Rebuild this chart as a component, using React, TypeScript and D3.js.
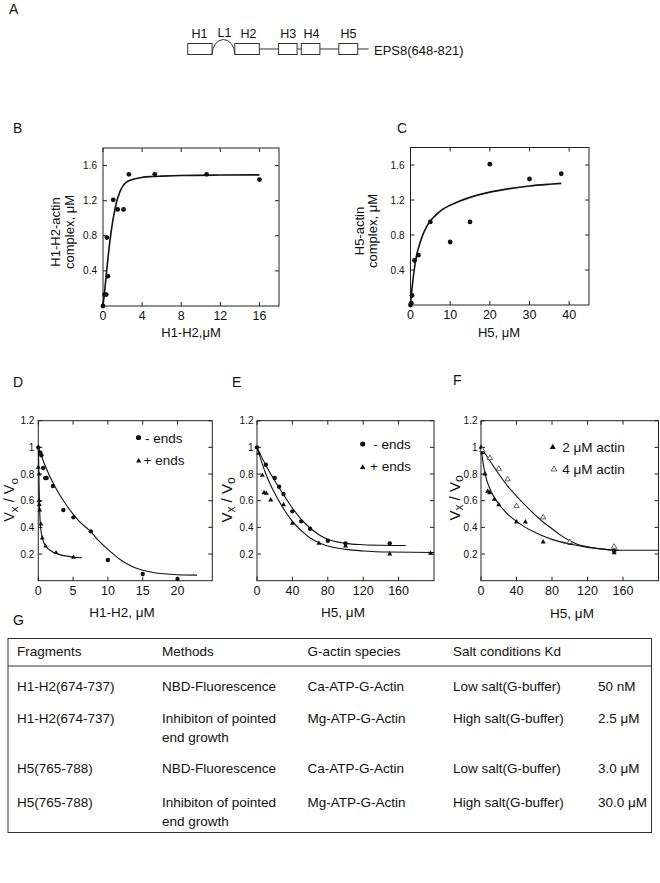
import React from 'react';
import * as d3 from 'd3';

type Pt = [number, number];
const FONT = "'Liberation Sans', Arial, Helvetica, sans-serif";
const INK = '#111';

// ---------- Panel A (domain schematic) ----------
const domainNames = ['H1', 'L1', 'H2', 'H3', 'H4', 'H5'];
const constructName = 'EPS8(648-821)';

// ---------- Panel B ----------
const bXTicks = [0, 4, 8, 12, 16];
const bYTicks = [0.4, 0.8, 1.2, 1.6];
const bPoints: Pt[] = [[0, 0], [0.15, 0.13], [0.33, 0.13], [0.4, 0.78], [0.5, 0.34], [1.05, 1.21], [1.5, 1.1], [2.1, 1.1], [2.65, 1.5], [5.3, 1.5], [10.6, 1.5], [16, 1.44]];
const bFit: Pt[] = [[0, 0], [0.2, 0.2], [0.4, 0.43], [0.6, 0.64], [0.8, 0.82], [1, 0.97], [1.2, 1.09], [1.4, 1.19], [1.6, 1.26], [1.8, 1.32], [2, 1.36], [2.4, 1.41], [3, 1.44], [4, 1.465], [5, 1.475], [6, 1.48], [8, 1.487], [12, 1.492], [16, 1.494]];

// ---------- Panel C ----------
const cXTicks = [0, 10, 20, 30, 40];
const cYTicks = [0.4, 0.8, 1.2, 1.6];
const cPoints: Pt[] = [[0, 0], [0.2, 0.02], [0.4, 0.11], [1, 0.51], [2, 0.57], [5, 0.95], [10, 0.72], [15, 0.95], [20, 1.61], [30, 1.44], [38, 1.5]];
const cFit: Pt[] = [[0, 0], [0.5, 0.24], [1, 0.42], [1.5, 0.56], [2, 0.65], [3, 0.79], [4, 0.89], [5, 0.96], [6, 1.01], [8, 1.09], [10, 1.14], [12, 1.18], [15, 1.23], [20, 1.29], [25, 1.33], [30, 1.36], [35, 1.38], [38, 1.39]];

// ---------- Panels D, E, F ----------
const vYTicks = [0.2, 0.4, 0.6, 0.8, 1, 1.2];
const dXTicks = [0, 5, 10, 15, 20];
const dMinusPoints: Pt[] = [[0, 1.0], [0.3, 0.96], [0.45, 0.94], [0.7, 0.845], [1.0, 0.77], [1.2, 0.77], [2.1, 0.71], [3.6, 0.53], [5.05, 0.475], [7.55, 0.37], [10, 0.155], [15, 0.05], [20, 0.013]];
const dPlusPoints: Pt[] = [[0, 0.85], [0.1, 0.8], [0.12, 0.6], [0.15, 0.57], [0.2, 0.53], [0.38, 0.425], [0.57, 0.32], [1.05, 0.26], [2.55, 0.21], [5.05, 0.175]];
const dMinusFit: Pt[] = [[0, 1.0], [0.2, 0.975], [0.5, 0.93], [1, 0.86], [1.5, 0.8], [2, 0.745], [3, 0.65], [4, 0.57], [5, 0.5], [6, 0.44], [7.5, 0.37], [8.5, 0.31], [10, 0.235], [11, 0.19], [12, 0.15], [13, 0.12], [14, 0.095], [15, 0.078], [16.5, 0.062], [18, 0.052], [20, 0.045], [22.8, 0.042]];
const dPlusFit: Pt[] = [[0, 1.0], [0.05, 0.9], [0.1, 0.75], [0.15, 0.62], [0.2, 0.52], [0.3, 0.42], [0.4, 0.37], [0.6, 0.315], [0.9, 0.275], [1.3, 0.245], [1.8, 0.225], [2.5, 0.205], [3.5, 0.19], [5, 0.178], [6.3, 0.172]];

const eXTicks = [0, 40, 80, 120, 160];
const eMinusPoints: Pt[] = [[0, 1.0], [10, 0.87], [20, 0.77], [25, 0.705], [30, 0.65], [40, 0.52], [50, 0.445], [60, 0.39], [80, 0.3], [100, 0.28], [150, 0.28]];
const ePlusPoints: Pt[] = [[2, 0.955], [6, 0.79], [8, 0.66], [10.5, 0.655], [15.5, 0.605], [30, 0.57], [40, 0.43], [70, 0.28], [100, 0.26], [150, 0.2], [196, 0.205]];
const eMinusFit: Pt[] = [[0, 1.0], [10, 0.865], [20, 0.75], [30, 0.645], [40, 0.545], [50, 0.46], [60, 0.395], [70, 0.345], [80, 0.31], [100, 0.28], [120, 0.27], [140, 0.266], [168, 0.264]];
const ePlusFit: Pt[] = [[0, 1.0], [10, 0.8], [20, 0.655], [30, 0.54], [40, 0.445], [50, 0.375], [60, 0.32], [70, 0.285], [80, 0.26], [100, 0.235], [120, 0.223], [150, 0.215], [200, 0.212]];

const fXTicks = [0, 40, 80, 120, 160];
const f2Points: Pt[] = [[0, 1.0], [1.5, 0.96], [4.5, 0.8], [7.5, 0.67], [9.75, 0.66], [15, 0.61], [20, 0.57], [40, 0.44], [50, 0.44], [70, 0.29], [100, 0.28], [150, 0.21], [150, 0.225]];
const f4Points: Pt[] = [[1.5, 0.98], [10, 0.92], [20, 0.84], [30, 0.76], [40, 0.56], [70, 0.475], [100, 0.29], [150, 0.255]];
const f2Fit: Pt[] = [[0, 1.0], [2, 0.9], [5, 0.79], [10, 0.69], [15, 0.625], [20, 0.575], [30, 0.5], [40, 0.445], [50, 0.4], [60, 0.365], [70, 0.335], [80, 0.31], [100, 0.275], [120, 0.25], [140, 0.235], [160, 0.228], [200, 0.228]];
const f4Fit: Pt[] = [[0, 1.0], [10, 0.9], [20, 0.8], [30, 0.71], [40, 0.635], [50, 0.565], [60, 0.5], [70, 0.44], [80, 0.39], [90, 0.34], [100, 0.3], [110, 0.27], [120, 0.255], [140, 0.235], [155, 0.228]];

// ---------- Panel G (table) ----------
const tableHeaders = ['Fragments', 'Methods', 'G-actin species', 'Salt conditions Kd'];
const rowFragments = ['H1-H2(674-737)', 'H1-H2(674-737)', 'H5(765-788)', 'H5(765-788)'];
const rowMethods = [['NBD-Fluorescence'], ['Inhibiton of pointed', 'end growth'], ['NBD-Fluorescence'], ['Inhibiton of pointed', 'end growth']];
const rowSpecies = ['Ca-ATP-G-Actin', 'Mg-ATP-G-Actin', 'Ca-ATP-G-Actin', 'Mg-ATP-G-Actin'];
const rowSalt = ['Low salt(G-buffer)', 'High salt(G-buffer)', 'Low salt(G-buffer)', 'High salt(G-buffer)'];
const rowKd = ['50 nM', '2.5 μM', '3.0 μM', '30.0 μM'];

type Lin = d3.ScaleLinear<number, number>;

function Axes({ x, y, xTicks, yTicks, yGap }: { x: Lin; y: Lin; xTicks: number[]; yTicks: number[]; yGap: number }) {
  const [x0, x1] = x.range();
  const [y0, y1] = y.range();
  const t = 4;
  return (
    <g>
      <rect x={x0} y={y1} width={x1 - x0} height={y0 - y1} fill="none" stroke="#222" strokeWidth={1} />
      {xTicks.map((v) => (
        <g key={'x' + v}>
          <line x1={x(v)} x2={x(v)} y1={y0} y2={y0 - t} stroke="#222" />
          <line x1={x(v)} x2={x(v)} y1={y1} y2={y1 + t} stroke="#222" />
          <text x={x(v)} y={y0 + 13.8} textAnchor="middle" fontSize={12.5} fill={INK}>{v}</text>
        </g>
      ))}
      {yTicks.map((v) => (
        <g key={'y' + v}>
          <line x1={x0} x2={x0 + t} y1={y(v)} y2={y(v)} stroke="#222" />
          <line x1={x1} x2={x1 - t} y1={y(v)} y2={y(v)} stroke="#222" />
          <text x={x0 - yGap} y={y(v) + 3.6} textAnchor="end" fontSize={10} fill={INK}>{String(v)}</text>
        </g>
      ))}
    </g>
  );
}

function lineFor(x: Lin, y: Lin) {
  return d3.line<Pt>().x((d) => x(d[0])).y((d) => y(d[1])).curve(d3.curveMonotoneX);
}

const triPath = (size: number) => d3.symbol().type(d3.symbolTriangle).size(size)() as string;

function Dots({ pts, x, y, r = 2.3 }: { pts: Pt[]; x: Lin; y: Lin; r?: number }) {
  return <g>{pts.map((p, i) => <circle key={i} cx={x(p[0])} cy={y(p[1])} r={r} fill={INK} />)}</g>;
}
function Tris({ pts, x, y, open = false, size = 11 }: { pts: Pt[]; x: Lin; y: Lin; open?: boolean; size?: number }) {
  const d = triPath(size);
  return (
    <g>
      {pts.map((p, i) => (
        <path key={i} d={d} transform={`translate(${x(p[0])},${y(p[1])})`} fill={open ? '#fff' : INK} stroke={open ? '#222' : 'none'} strokeWidth={0.7} />
      ))}
    </g>
  );
}

function VLabel({ x, y, size = 15 }: { x: number; y: number; size?: number }) {
  const sub = size * 0.8;
  return (
    <text transform={`translate(${x},${y}) rotate(-90)`} textAnchor="middle" fontSize={size} fill={INK}>
      <tspan>V</tspan>
      <tspan dy={3.5} fontSize={sub}>x</tspan>
      <tspan dy={-3.5}> / V</tspan>
      <tspan dy={3.5} fontSize={sub}>o</tspan>
    </text>
  );
}

export default function App() {
  // Scales
  const bx = d3.scaleLinear().domain([0, 18]).range([103, 279]);
  const by = d3.scaleLinear().domain([0, 1.8]).range([306, 148]);
  const cx = d3.scaleLinear().domain([0, 45]).range([410.5, 589]);
  const cy = d3.scaleLinear().domain([0, 1.8]).range([305, 147.5]);
  const dx = d3.scaleLinear().domain([0, 25]).range([38.3, 212.3]);
  const dy = d3.scaleLinear().domain([0, 1.2]).range([580.7, 420.7]);
  const ex = d3.scaleLinear().domain([0, 200]).range([257, 434]);
  const ey = dy;
  const fx = d3.scaleLinear().domain([0, 200]).range([481, 658.5]);
  const fy = dy;

  const bLine = lineFor(bx, by);
  const cLine = lineFor(cx, cy);
  const dLine = lineFor(dx, dy);
  const eLine = lineFor(ex, ey);
  const fLine = lineFor(fx, fy);

  // Panel A layout
  const aTop = 43.5, aBot = 54.5, aMid = 49;
  const boxes: [number, number][] = [[187.7, 212.1], [234.8, 259.3], [278.6, 297.1], [301.3, 319.9], [338.8, 357.7]];
  const links: [number, number][] = [[259.3, 278.6], [297.1, 301.3], [319.9, 338.8], [357.7, 368.7]];
  const labelX = [199.5, 224.5, 248.5, 288.3, 311.5, 348.5];
  const labelY = [37.7, 36.7, 37.7, 37.7, 37.7, 37.7];

  // Table layout
  const colX = [17, 162, 307.5, 453];
  const kdX = 598;
  const rowY = [690.5, 722.5, 773, 807];
  const lineGap = 19;

  return (
    <svg width={660} height={883} style={{ position: 'absolute', left: 0, top: 0, background: '#fff' }} fontFamily={FONT}>
      <rect x={0} y={0} width={660} height={883} fill="#fff" />

      {/* Panel letters */}
      <g fontSize={14} fill={INK}>
        <text x={9} y={14}>A</text>
        <text x={13} y={133}>B</text>
        <text x={397} y={133}>C</text>
        <text x={13} y={387}>D</text>
        <text x={232} y={387}>E</text>
        <text x={453} y={385}>F</text>
        <text x={13} y={625}>G</text>
      </g>

      {/* Panel A */}
      <g stroke="#333" strokeWidth={1} fill="#fff">
        {links.map((l, i) => <line key={i} x1={l[0]} x2={l[1]} y1={aMid} y2={aMid} />)}
        {boxes.map((b, i) => <rect key={i} x={b[0]} y={aTop} width={b[1] - b[0]} height={aBot - aTop} />)}
        <path d={`M212.1,${aBot} A11.35,15 0 0 1 234.8,${aBot}`} fill="none" />
      </g>
      <g fontSize={12.5} fill={INK} textAnchor="middle">
        {domainNames.map((n, i) => <text key={n} x={labelX[i]} y={labelY[i]}>{n}</text>)}
      </g>
      <text x={374} y={54.5} fontSize={13} fill={INK}>{constructName}</text>

      {/* Panel B */}
      <Axes x={bx} y={by} xTicks={bXTicks} yTicks={bYTicks} yGap={6} />
      <path d={bLine(bFit) as string} fill="none" stroke={INK} strokeWidth={1.6} />
      <Dots pts={bPoints} x={bx} y={by} r={2.4} />
      <text x={191} y={337} textAnchor="middle" fontSize={13} fill={INK}>H1-H2,μM</text>
      <g fontSize={13} fill={INK} textAnchor="middle">
        <text transform="translate(60,232) rotate(-90)">H1-H2-actin</text>
        <text transform="translate(74,232) rotate(-90)">complex, μM</text>
      </g>

      {/* Panel C */}
      <Axes x={cx} y={cy} xTicks={cXTicks} yTicks={cYTicks} yGap={6} />
      <path d={cLine(cFit) as string} fill="none" stroke={INK} strokeWidth={1.6} />
      <Dots pts={cPoints} x={cx} y={cy} r={2.4} />
      <text x={499} y={337} textAnchor="middle" fontSize={13} fill={INK}>H5, μM</text>
      <g fontSize={13} fill={INK} textAnchor="middle">
        <text transform="translate(363.5,231) rotate(-90)">H5-actin</text>
        <text transform="translate(377,231) rotate(-90)">complex, μM</text>
      </g>

      {/* Panel D */}
      <Axes x={dx} y={dy} xTicks={dXTicks} yTicks={vYTicks} yGap={4} />
      <path d={dLine(dMinusFit) as string} fill="none" stroke={INK} strokeWidth={1.1} />
      <path d={dLine(dPlusFit) as string} fill="none" stroke={INK} strokeWidth={1.1} />
      <Dots pts={dMinusPoints} x={dx} y={dy} r={2.2} />
      <Tris pts={dPlusPoints} x={dx} y={dy} size={10} />
      <circle cx={138.5} cy={437.5} r={2.6} fill={INK} />
      <text x={145} y={442.5} fontSize={13.5} fill={INK}>- ends</text>
      <path d={triPath(12)} transform="translate(138.7,461)" fill={INK} />
      <text x={143.5} y={464.5} fontSize={13.5} fill={INK}>+ ends</text>
      <text x={122} y={617} textAnchor="middle" fontSize={13.5} fill={INK}>H1-H2, μM</text>
      <VLabel x={14} y={500} size={14.5} />

      {/* Panel E */}
      <Axes x={ex} y={ey} xTicks={eXTicks} yTicks={vYTicks} yGap={3.5} />
      <path d={eLine(eMinusFit) as string} fill="none" stroke={INK} strokeWidth={1.1} />
      <path d={eLine(ePlusFit) as string} fill="none" stroke={INK} strokeWidth={1.1} />
      <Dots pts={eMinusPoints} x={ex} y={ey} r={2.2} />
      <Tris pts={ePlusPoints} x={ex} y={ey} size={11} />
      <circle cx={362.7} cy={444} r={2.6} fill={INK} />
      <text x={373.3} y={448.5} fontSize={13.5} fill={INK}>- ends</text>
      <path d={triPath(13)} transform="translate(362.7,467.5)" fill={INK} />
      <text x={370} y={470.5} fontSize={13.5} fill={INK}>+ ends</text>
      <text x={343} y={617} textAnchor="middle" fontSize={13.5} fill={INK}>H5, μM</text>
      <VLabel x={231.5} y={500} />

      {/* Panel F */}
      <Axes x={fx} y={fy} xTicks={fXTicks} yTicks={vYTicks} yGap={3.5} />
      <path d={fLine(f4Fit) as string} fill="none" stroke={INK} strokeWidth={1.1} />
      <path d={fLine(f2Fit) as string} fill="none" stroke={INK} strokeWidth={1.1} />
      <Tris pts={f2Points} x={fx} y={fy} size={11} />
      <Tris pts={f4Points} x={fx} y={fy} size={12} open />
      <path d={triPath(16)} transform="translate(552.7,447.3)" fill={INK} />
      <text x={562.3} y={451.5} fontSize={13.5} fill={INK}>2 μM actin</text>
      <path d={triPath(14)} transform="translate(554,469.3)" fill="#fff" stroke="#222" strokeWidth={0.7} />
      <text x={562.3} y={473.5} fontSize={13.5} fill={INK}>4 μM actin</text>
      <text x={572} y={618} textAnchor="middle" fontSize={13.5} fill={INK}>H5, μM</text>
      <VLabel x={459.5} y={498} />

      {/* Panel G table */}
      <rect x={8} y={638.5} width={643.5} height={194} fill="none" stroke="#333" strokeWidth={1} />
      <line x1={8} x2={651.5} y1={666} y2={666} stroke="#333" strokeWidth={1} />
      <g fontSize={13.5} fill={INK}>
        {tableHeaders.map((h, i) => <text key={h} x={colX[i]} y={656}>{h}</text>)}
        {rowFragments.map((t, i) => <text key={'f' + i} x={colX[0]} y={rowY[i]}>{t}</text>)}
        {rowMethods.map((lines, i) => (
          <text key={'m' + i} x={colX[1]} y={rowY[i]}>
            {lines.map((l, j) => <tspan key={j} x={colX[1]} dy={j === 0 ? 0 : lineGap}>{l}</tspan>)}
          </text>
        ))}
        {rowSpecies.map((t, i) => <text key={'s' + i} x={colX[2]} y={rowY[i]}>{t}</text>)}
        {rowSalt.map((t, i) => <text key={'c' + i} x={colX[3]} y={rowY[i]}>{t}</text>)}
        {rowKd.map((t, i) => <text key={'k' + i} x={kdX} y={rowY[i]}>{t}</text>)}
      </g>
    </svg>
  );
}
